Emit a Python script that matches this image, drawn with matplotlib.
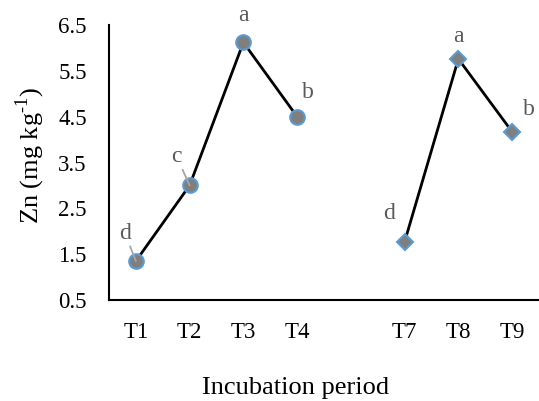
import matplotlib
matplotlib.use('Agg')
import matplotlib.pyplot as plt
import numpy as np

plt.rcParams['font.family'] = 'Liberation Serif'
plt.rcParams['mathtext.fontset'] = 'custom'
plt.rcParams['mathtext.rm'] = 'Liberation Serif'

# categories on the x axis (one blank slot between the two groups)
cats = ['T1', 'T2', 'T3', 'T4', '', 'T7', 'T8', 'T9']

# series 1 (circles) and series 2 (diamonds)
cats1 = ['T1', 'T2', 'T3', 'T4']
zn1 = [1.35, 3.0, 6.12, 4.5]
let1 = ['d', 'c', 'a', 'b']

cats2 = ['T7', 'T8', 'T9']
zn2 = [1.77, 5.76, 4.17]
let2 = ['d', 'a', 'b']

yticks = [0.5, 1.5, 2.5, 3.5, 4.5, 5.5, 6.5]

fig = plt.figure(figsize=(5.39, 4.01), dpi=100)
ax = fig.add_axes([109/539, 1-300/401, 1-109/539, (300-25)/401])

x1 = [cats.index(c) for c in cats1]
x2 = [cats.index(c) for c in cats2]

face = '#7f7f7f'
edge = '#5b9bd5'
ax.plot(x1, zn1, color='black', lw=2, marker='o', ms=10.5,
        mfc=face, mec=edge, mew=1.5, zorder=3, clip_on=False)
ax.plot(x2, zn2, color='black', lw=2, marker='D', ms=8,
        mfc=face, mec=edge, mew=1.5, zorder=3, clip_on=False)

# letter labels, offsets in pixels; some have leader lines
offs1 = [(-11, 28), (-13, 29), (0, 27), (11, 24)]
lead1 = [True, True, False, False]
offs2 = [(-16, 28), (0, 22), (17, 22)]
lead2 = [False, False, False]

def put_labels(xs, ys, lets, offs, leads):
    for x, y, t, o, ld in zip(xs, ys, lets, offs, leads):
        ap = None
        if ld:
            ap = dict(arrowstyle='-', color='#a6a6a6', lw=1.3,
                      shrinkA=0, shrinkB=0)
        ax.annotate(t, (x, y), xytext=o, textcoords='offset pixels',
                    ha='center', va='center', fontsize=17, color='#595959',
                    arrowprops=ap, zorder=4, annotation_clip=False)

put_labels(x1, zn1, let1, offs1, lead1)
put_labels(x2, zn2, let2, offs2, lead2)

ax.set_xlim(-0.5, len(cats) - 0.5)
ax.set_ylim(0.5, 6.5)
ax.set_xticks(range(len(cats)))
ax.set_xticklabels(cats)
ax.set_yticks(yticks)
ax.set_yticklabels(['%.1f' % v for v in yticks])
ax.tick_params(length=0, labelsize=16.5, colors='black')
ax.tick_params(axis='y', pad=16)
ax.tick_params(axis='x', pad=16)

for s in ['top', 'right']:
    ax.spines[s].set_visible(False)
for s in ['left', 'bottom']:
    ax.spines[s].set_linewidth(1.5)
    ax.spines[s].set_color('black')

fig.text(30/539, 1-155/401, 'Zn (mg kg$^{\\text{-1}}$)', rotation=90,
         ha='center', va='center', fontsize=19)
fig.text(296/539, 1-388/401, 'Incubation period', ha='center', va='center',
         fontsize=19)

fig.savefig('out.png', dpi=100)
